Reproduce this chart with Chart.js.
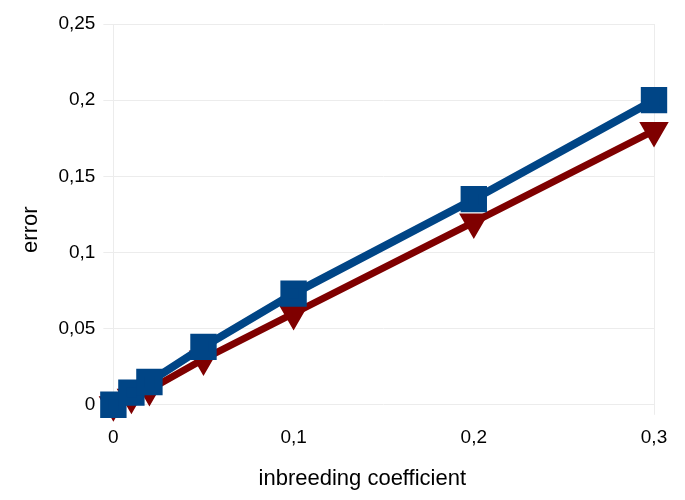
<!DOCTYPE html>
<html>
<head>
<meta charset="utf-8">
<script src="https://cdn.jsdelivr.net/npm/chart.js@4/dist/chart.umd.min.js"></script>
<style>
  body { margin: 0; background: #fff; }
  #wrap { width: 685px; height: 500px; }
</style>
</head>
<body>
<div id="wrap"><canvas id="myChart"></canvas></div>
<script>
const coeffs = [0, 0.01, 0.02, 0.05, 0.1, 0.2, 0.3];
const blueErr = [0, 0.008, 0.015, 0.038, 0.073, 0.135, 0.2];
const redErr = [0, 0.005, 0.01, 0.03, 0.06, 0.12, 0.18];

const toPts = (ys) => coeffs.map((x, i) => ({ x: x, y: ys[i] }));
const comma = (v) => String(Math.round(v * 100) / 100).replace(".", ",");
const faint = "#ececec";
// trailing no-break spaces nudge the axis titles off-centre like the original
const nudge = (s, n) => s + "\u00a0".repeat(n);

const data = {
  datasets: [
    {
      label: "blue",
      data: toPts(blueErr),
      borderColor: "#004586",
      backgroundColor: "#004586",
      borderWidth: 8,
      pointStyle: "rect",
      pointRadius: 13,
      pointHoverRadius: 13,
      tension: 0,
      clip: false
    },
    {
      label: "red",
      data: toPts(redErr),
      borderColor: "#7f0000",
      backgroundColor: "#7f0000",
      borderWidth: 7,
      pointStyle: "triangle",
      pointRotation: 180,
      pointRadius: 10,
      pointHoverRadius: 10,
      tension: 0,
      clip: false
    }
  ]
};

const config = {
  type: "line",
  data: data,
  options: {
    responsive: true,
    maintainAspectRatio: false,
    animation: false,
    layout: { padding: { left: 18, right: 31, top: 24, bottom: 8 } },
    plugins: { legend: { display: false }, tooltip: { enabled: false } },
    scales: {
      x: {
        type: "linear",
        min: 0,
        max: 0.3,
        ticks: {
          stepSize: 0.1,
          callback: comma,
          color: "#000",
          font: { family: "Liberation Sans", size: 19 },
          padding: 12
        },
        grid: {
          color: (c) => (c.index === 0 || c.tick.value >= 0.3 ? faint : "transparent"),
          tickLength: 10
        },
        border: { display: false },
        title: {
          display: true,
          text: nudge("inbreeding coefficient", 7),
          color: "#000",
          font: { family: "Liberation Sans", size: 22 },
          padding: { top: 4, bottom: 0 }
        }
      },
      y: {
        min: 0,
        max: 0.25,
        ticks: {
          stepSize: 0.05,
          callback: comma,
          color: "#000",
          font: { family: "Liberation Sans", size: 19 },
          padding: 8
        },
        grid: { color: faint, tickLength: 10 },
        border: { display: false },
        title: {
          display: true,
          text: nudge("error", 5),
          color: "#000",
          font: { family: "Liberation Sans", size: 22 },
          padding: { top: 0, bottom: 6 }
        }
      }
    }
  }
};

const myChart = new Chart(document.getElementById("myChart"), config);
</script>
</body>
</html>
